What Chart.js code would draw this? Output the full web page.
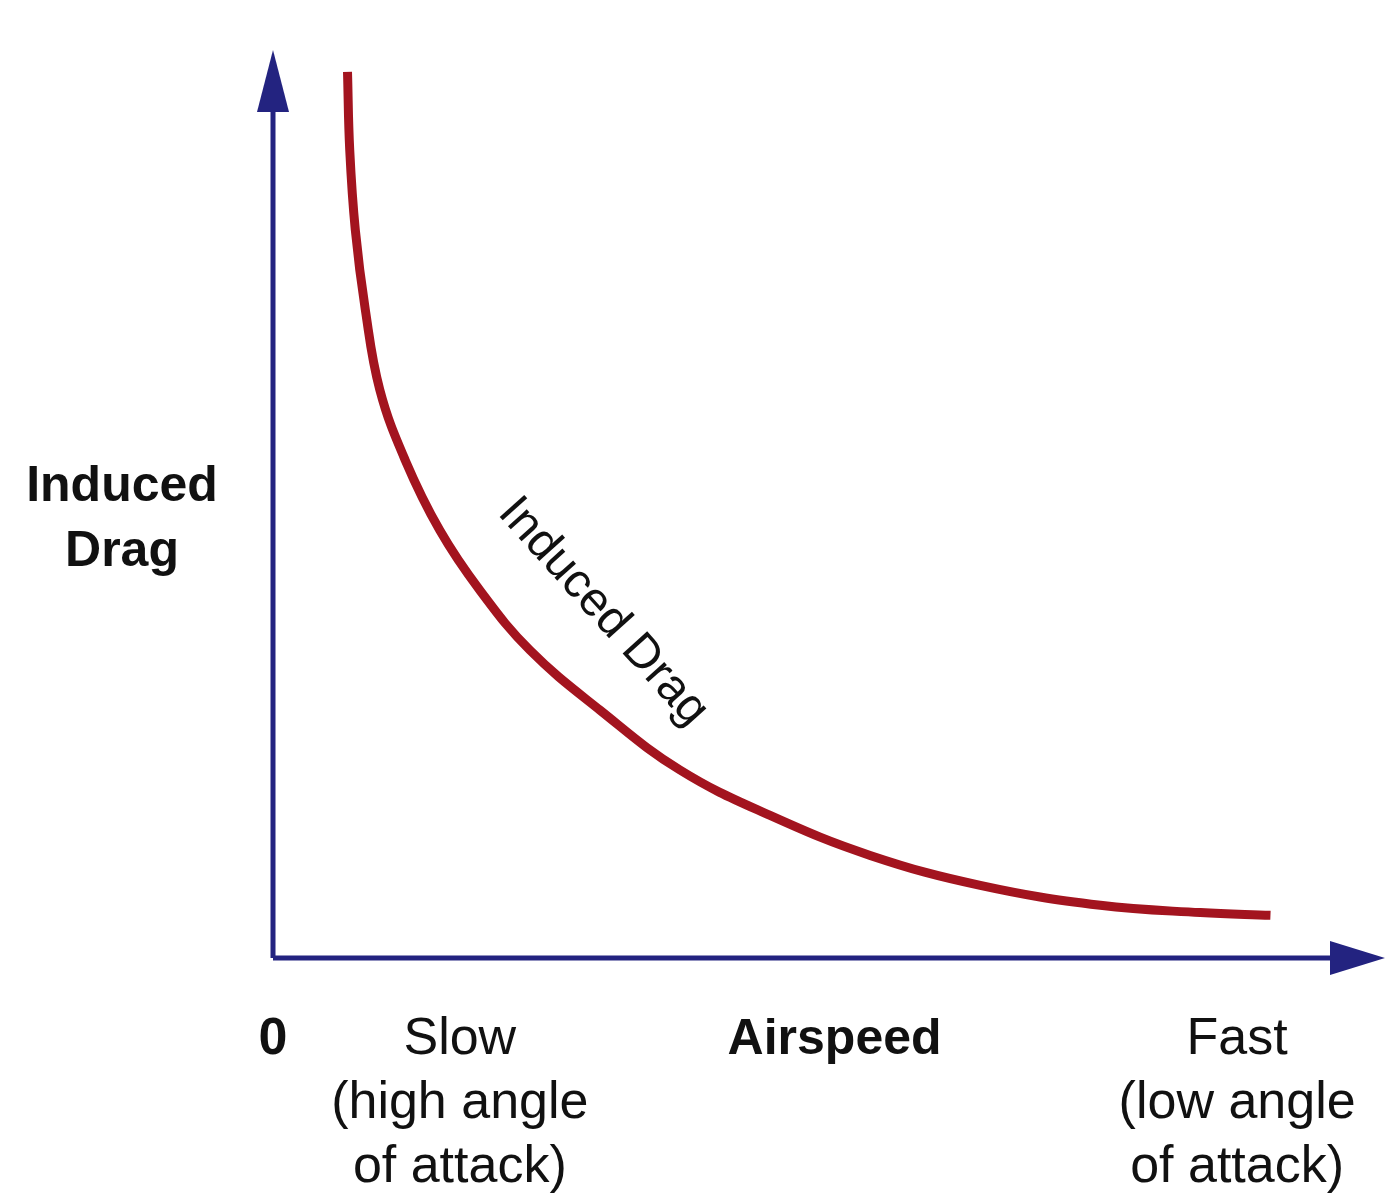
<!DOCTYPE html>
<html><head><meta charset="utf-8">
<script src="https://cdn.jsdelivr.net/npm/chart.js@4"></script>
<style>html,body{margin:0;padding:0;background:#fff}#w{width:1397px;height:1200px}</style>
</head><body><div id="w"><canvas id="c"></canvas></div>
<script>
const curveX = [6.7, 6.9, 7.4, 8.3, 9.6, 11.9, 15.0, 18.6, 23.1, 29.4, 36.6, 44.7, 53.7, 63.6, 74.4, 83.4, 89.7];
const curveY = [97.6, 89.0, 80.2, 71.4, 62.6, 54.8, 47.1, 40.5, 33.9, 27.3, 20.7, 15.7, 11.3, 8.0, 5.8, 5.0, 4.7];
const seriesName = "Induced Drag";
const yTitle = ["Induced", "Drag"];
const xTitle = "Airspeed";
const tickLabels = [
  {x: 0, lines: ["0"], bold: true},
  {x: 16.8, lines: ["Slow", "(high angle", "of attack)"], bold: false},
  {x: 86.7, lines: ["Fast", "(low angle", "of attack)"], bold: false}
];
const FONT = '"Liberation Sans", Arial, sans-serif';
const NAVY = '#232380', RED = '#a3141f';

const deco = {
  id: 'deco',
  afterDraw(chart) {
    const {ctx, scales: {x, y}} = chart;
    const x0 = x.getPixelForValue(0), y0 = y.getPixelForValue(0);
    const xe = x.getPixelForValue(100), ye = y.getPixelForValue(100);
    ctx.save();
    ctx.strokeStyle = NAVY; ctx.fillStyle = NAVY; ctx.lineWidth = 5;
    ctx.beginPath(); ctx.moveTo(x0, y0); ctx.lineTo(xe - 40, y0); ctx.moveTo(x0, y0); ctx.lineTo(x0, ye + 50); ctx.stroke();
    ctx.beginPath(); ctx.moveTo(xe, y0); ctx.lineTo(xe - 55, y0 - 17); ctx.lineTo(xe - 55, y0 + 17); ctx.closePath(); ctx.fill();
    ctx.beginPath(); ctx.moveTo(x0, ye); ctx.lineTo(x0 - 16, ye + 62); ctx.lineTo(x0 + 16, ye + 62); ctx.closePath(); ctx.fill();
    ctx.fillStyle = '#111'; ctx.textAlign = 'center'; ctx.textBaseline = 'middle';
    ctx.font = 'bold 50px ' + FONT;
    ctx.fillText(yTitle[0], 122, 487); ctx.fillText(yTitle[1], 122, 552);
    ctx.fillText(xTitle, x.getPixelForValue(50.5), 1040);
    tickLabels.forEach(t => {
      ctx.font = (t.bold ? 'bold ' : '') + '52px ' + FONT;
      t.lines.forEach((l, i) => ctx.fillText(l, x.getPixelForValue(t.x), 1040 + i * 64));
    });
    ctx.translate(603, 612); ctx.rotate(48 * Math.PI / 180);
    ctx.font = '48px ' + FONT; ctx.fillText(seriesName, 0, 0);
    ctx.restore();
  }
};

new Chart(document.getElementById('c'), {
  type: 'line',
  data: {datasets: [{label: seriesName, data: curveX.map((v, i) => ({x: v, y: curveY[i]})),
    borderColor: RED, borderWidth: 9, pointRadius: 0, tension: 0.4, fill: false}]},
  options: {
    responsive: true, maintainAspectRatio: false, animation: false,
    layout: {padding: {left: 273, right: 12, top: 50, bottom: 242}},
    plugins: {legend: {display: false}, tooltip: {enabled: false}},
    scales: {
      x: {type: 'linear', min: 0, max: 100, display: false},
      y: {type: 'linear', min: 0, max: 100, display: false}
    }
  },
  plugins: [deco]
});
</script></body></html>
